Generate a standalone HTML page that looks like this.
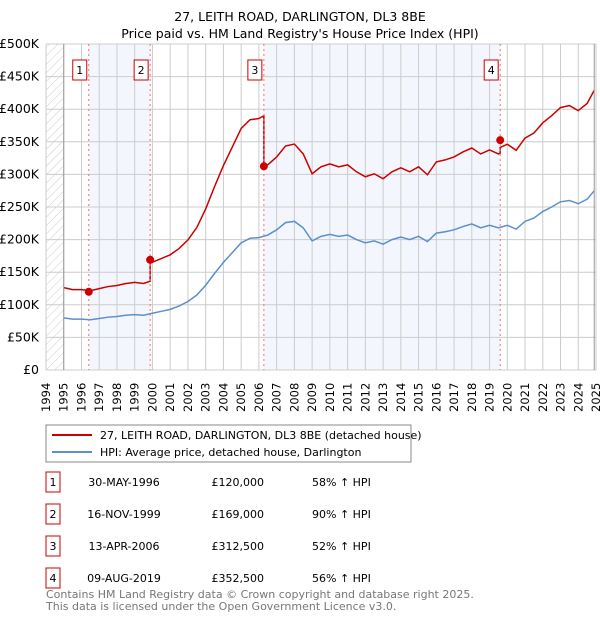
<!DOCTYPE html>
<html><head><meta charset="utf-8"><style>
body{margin:0;background:#fff;width:600px;height:620px;overflow:hidden;font-family:"DejaVu Sans","Liberation Sans",sans-serif;}
svg text{font-family:"DejaVu Sans","Liberation Sans",sans-serif;}
</style></head><body>
<svg id="chart" width="600" height="620" xmlns="http://www.w3.org/2000/svg">
<text x="300" y="21" text-anchor="middle" font-size="12.5">27, LEITH ROAD, DARLINGTON, DL3 8BE</text>
<text x="300" y="38" text-anchor="middle" font-size="12.5">Price paid vs. HM Land Registry's House Price Index (HPI)</text>
<defs><pattern id="hatch" width="6" height="6" patternUnits="userSpaceOnUse" patternTransform="rotate(45)"><line x1="0" y1="0" x2="0" y2="6" stroke="#ccc" stroke-width="1"/></pattern></defs>
<g id="bands"></g><g id="grid"></g><g id="series"></g><g id="marks"></g><g id="axes"></g>
<g>
<rect x="46" y="425" width="365" height="37" fill="#fff" stroke="#888"/>
<line x1="52" y1="435" x2="92" y2="435" stroke="#cc0000" stroke-width="2"/>
<text x="100" y="439" font-size="11">27, LEITH ROAD, DARLINGTON, DL3 8BE (detached house)</text>
<line x1="52" y1="452" x2="92" y2="452" stroke="#5b8fd0" stroke-width="2"/>
<text x="100" y="456" font-size="11">HPI: Average price, detached house, Darlington</text>
</g>
<g id="table"></g>
<text x="46" y="598" font-size="11" fill="#777">Contains HM Land Registry data © Crown copyright and database right 2025.</text>
<text x="46" y="610" font-size="11" fill="#777">This data is licensed under the Open Government Licence v3.0.</text>
</svg>
<script>
const hpiYears=[1995.0,1995.5,1996.0,1996.5,1997.0,1997.5,1998.0,1998.5,1999.0,1999.5,2000.0,2000.5,2001.0,2001.5,2002.0,2002.5,2003.0,2003.5,2004.0,2004.5,2005.0,2005.5,2006.0,2006.5,2007.0,2007.5,2008.0,2008.5,2009.0,2009.5,2010.0,2010.5,2011.0,2011.5,2012.0,2012.5,2013.0,2013.5,2014.0,2014.5,2015.0,2015.5,2016.0,2016.5,2017.0,2017.5,2018.0,2018.5,2019.0,2019.5,2020.0,2020.5,2021.0,2021.5,2022.0,2022.5,2023.0,2023.5,2024.0,2024.5,2024.9];
const hpiValues=[80,78,78,77,79,81,82,84,85,84,87,90,93,98,105,115,130,148,165,180,195,202,203,207,215,226,228,218,198,205,208,205,207,200,195,198,193,200,204,200,205,197,210,212,215,220,224,218,222,218,222,216,228,233,243,250,258,260,255,262,275];
const saleYears=[1996.41,1999.87,2006.28,2019.60];
const salePrices=[120,169,312.5,352.5];
const saleRatios=[1.58,1.90,1.52,1.56];
const saleDates=["30-MAY-1996","16-NOV-1999","13-APR-2006","09-AUG-2019"];
const saleLabels=["£120,000","£169,000","£312,500","£352,500"];
const salePct=["58% ↑ HPI","90% ↑ HPI","52% ↑ HPI","56% ↑ HPI"];
const yTicks=[0,50,100,150,200,250,300,350,400,450,500];
const yTickLabels=["£0","£50K","£100K","£150K","£200K","£250K","£300K","£350K","£400K","£450K","£500K"];

const NS="http://www.w3.org/2000/svg";
const X0=46,X1=596,Y0=370,Y1=44;
const x=y=>X0+(y-1994)/31*(X1-X0);
const yv=v=>Y0-v/500*(Y0-Y1);
function mk(tag,at,parent){const e=document.createElementNS(NS,tag);for(const k in at)e.setAttribute(k,at[k]);document.getElementById(parent).appendChild(e);return e;}
[[0,1],[2,3]].forEach(([a,b],i)=>{const r=mk('rect',{x:x(saleYears[a]),y:Y1,width:x(saleYears[b])-x(saleYears[a]),height:Y0-Y1,fill:'#eef3fc',opacity:0.7},'bands');

});
const h1=mk('rect',{x:X0,y:Y1,width:x(1995)-X0,height:Y0-Y1,fill:'url(#hatch)'},'bands');


for(let yr=1994;yr<=2025;yr++){const l=mk('line',{x1:x(yr),x2:x(yr),y1:Y1,y2:Y0,stroke:'#ccc','stroke-width':1},'grid');


const t=mk('text',{x:0,y:0,'font-size':11.5,transform:`translate(${x(yr)+4},${412}) rotate(-90)`},'axes');t.textContent=yr;

}
yTicks.forEach((v,i)=>{const l=mk('line',{x1:X0,x2:X1,y1:yv(v),y2:yv(v),stroke:'#ccc','stroke-width':1},'grid');


const t=mk('text',{x:39,y:yv(v)+4,'text-anchor':'end','font-size':12.5},'axes');t.textContent=yTickLabels[i];

});
const ax=mk('line',{x1:x(1995),x2:x(1995),y1:Y1,y2:Y0,stroke:'#999'},'axes');


const ax2=mk('line',{x1:x(2024.9),x2:x(2024.9),y1:Y1,y2:Y0,stroke:'#999'},'axes');


const hp=mk('polyline',{points:hpiYears.map((t,i)=>x(t)+','+yv(hpiValues[i])).join(' '),fill:'none',stroke:'#5b8fd0','stroke-width':1.5},'series');


function hpiAt(t){for(let i=1;i<hpiYears.length;i++){if(t<=hpiYears[i]){const f=(t-hpiYears[i-1])/(hpiYears[i]-hpiYears[i-1]);return hpiValues[i-1]+f*(hpiValues[i]-hpiValues[i-1]);}}return hpiValues[hpiValues.length-1];}
let pts=[];
const allT=[...hpiYears,...saleYears].sort((a,b)=>a-b);
allT.forEach(t=>{let k=0;for(let j=0;j<saleYears.length;j++)if(t>=saleYears[j])k=j;
if(saleYears.includes(t)&&k>0){pts.push([t,hpiAt(t)*saleRatios[k-1]]);}
pts.push([t,hpiAt(t)*saleRatios[k]]);});
const pl=mk('polyline',{points:pts.map(p=>x(p[0])+','+yv(p[1])).join(' '),fill:'none',stroke:'#cc0000','stroke-width':1.5},'series');


saleYears.forEach((t,i)=>{
const d=mk('line',{x1:x(t),x2:x(t),y1:Y1,y2:Y0,stroke:'#f07070','stroke-dasharray':'2,3'},'marks');


const c=mk('circle',{cx:x(t),cy:yv(salePrices[i]),r:4,fill:'#cc0000'},'marks');


const b=mk('rect',{x:x(t)-16,y:60,width:14,height:20,fill:'#fff',stroke:'#cc0000'},'marks');


const tx=mk('text',{x:x(t)-9,y:74,'text-anchor':'middle','font-size':11},'marks');tx.textContent=i+1;


const ry=472+i*32;
const tb=mk('rect',{x:46,y:ry,width:14,height:20,fill:'#fff',stroke:'#cc0000'},'table');


const cells=[[53,'middle',String(i+1)],[124,'middle',saleDates[i]],[264,'end',saleLabels[i]],[312,'start',salePct[i]]];
cells.forEach(c=>{const e=mk('text',{x:c[0],y:ry+14,'text-anchor':c[1],'font-size':11},'table');e.textContent=c[2];

});
});
</script>
</body></html>
